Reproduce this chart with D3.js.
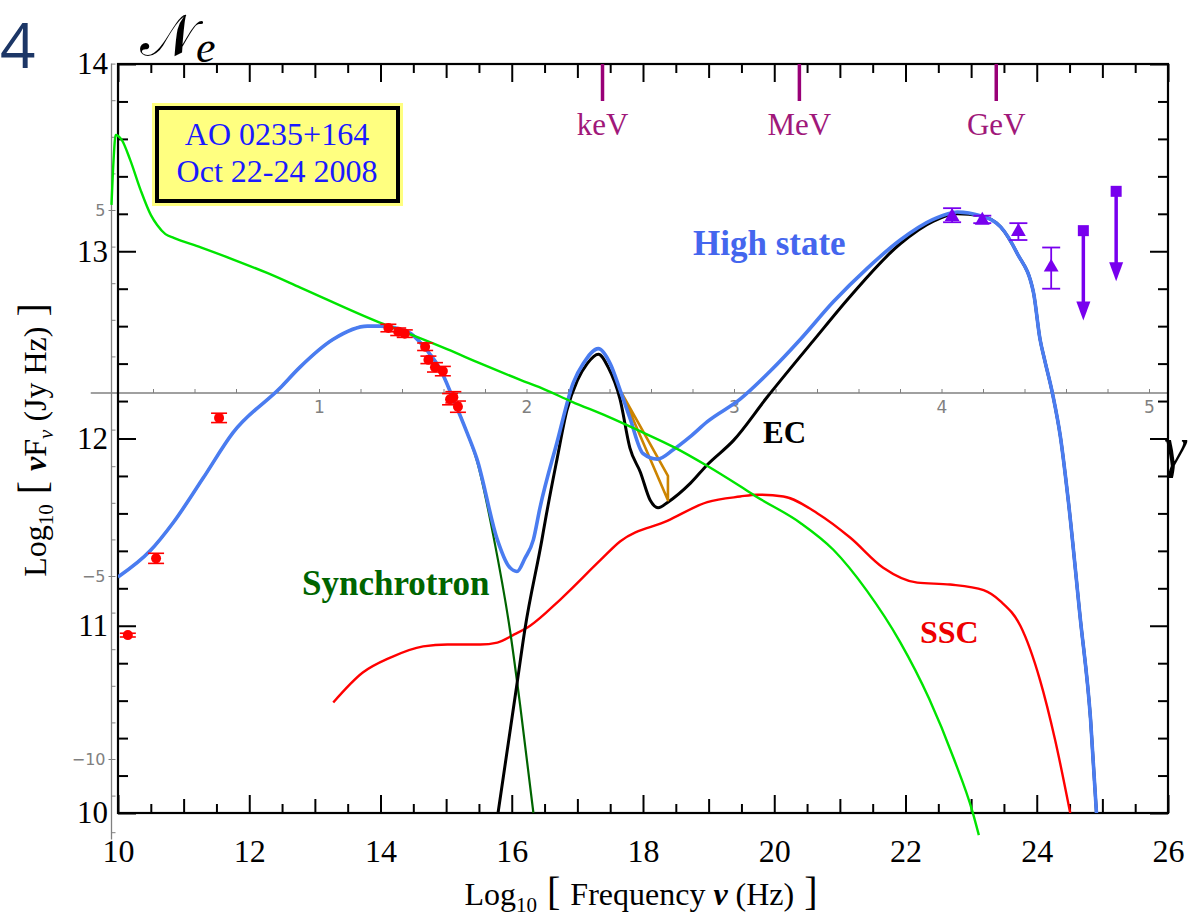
<!DOCTYPE html>
<html>
<head>
<meta charset="utf-8">
<script src="https://cdn.jsdelivr.net/npm/d3@7"></script>
<style>
  body { margin: 0; background: #fff; }
  svg { display: block; }
</style>
</head>
<body>
<div id="chart"></div>
<script>
// ---- values ----
// model curves, [log10 nu, log10 nuFnu]
const highState = [
  [10.00,11.26],[10.49,11.40],[10.84,11.55],[11.30,11.79],[11.75,12.03],[12.47,12.27],[12.77,12.38],
  [13.28,12.53],[13.80,12.60],[13.99,12.60],[14.41,12.57],[14.71,12.47],[14.91,12.37],[15.11,12.21],
  [15.32,12.03],[15.47,11.89],[15.78,11.46],[15.95,11.32],[16.08,11.29],[16.20,11.36],[16.33,11.46],
  [16.43,11.63],[16.69,11.98],[16.94,12.30],[17.09,12.40],[17.32,12.48],[17.50,12.40],[17.65,12.26],
  [17.80,12.11],[18.00,11.92],[18.22,11.89],[18.46,11.94],[18.72,12.01],[18.98,12.09],[19.48,12.21],
  [19.94,12.36],[20.40,12.53],[20.90,12.73],[21.42,12.91],[21.92,13.06],[22.42,13.17],[22.79,13.21],
  [23.14,13.19],[23.45,13.13],[23.70,12.99],[23.95,12.78],[24.05,12.53],[24.12,12.42],[24.24,12.24],
  [24.36,12.01],[24.48,11.67],[24.66,11.05],[24.82,10.50],[24.91,10.00]
];
const ecModel = [
  [15.77,9.95],[16.08,10.69],[16.20,10.98],[16.46,11.46],[16.51,11.56],[16.69,11.89],[16.84,12.15],
  [17.00,12.31],[17.15,12.40],[17.32,12.45],[17.47,12.38],[17.65,12.21],[17.80,11.95],[17.96,11.82],
  [18.11,11.67],[18.23,11.63],[18.38,11.66],[18.72,11.76],[18.98,11.86],[19.38,11.99],[19.89,12.22],
  [20.59,12.52],[21.16,12.76],[21.92,13.04],[22.42,13.16],[22.79,13.20],[23.14,13.19],[23.45,13.13],
  [23.70,12.99],[23.95,12.78],[24.05,12.53],[24.12,12.42],[24.24,12.24],[24.36,12.01],[24.48,11.67],
  [24.66,11.05],[24.82,10.50],[24.91,10.00]
];
const syncModel = [
  [10.00,11.26],[10.49,11.40],[10.84,11.55],[11.30,11.79],[11.75,12.03],[12.47,12.27],[12.77,12.38],
  [13.28,12.53],[13.80,12.60],[13.99,12.60],[14.41,12.57],[14.71,12.47],[14.91,12.37],[15.11,12.21],
  [15.32,12.03],[15.47,11.88],[15.72,11.48],[15.98,10.96],[16.13,10.57],[16.33,10.00]
];
const sscModel = [
  [13.28,10.59],[13.73,10.75],[14.15,10.83],[14.65,10.89],[15.02,10.90],[15.52,10.90],[15.78,10.91],
  [16.02,10.95],[16.28,11.00],[16.74,11.14],[17.35,11.35],[17.65,11.45],[18.37,11.56],[18.98,11.66],
  [19.48,11.69],[19.74,11.70],[20.14,11.69],[20.66,11.60],[21.16,11.47],[21.66,11.31],[22.18,11.23],
  [22.68,11.22],[23.19,11.19],[23.45,11.13],[23.75,11.00],[24.05,10.71],[24.28,10.39],[24.51,10.00]
];
// X-ray spectrum bow tie
const xrayBowtie = [[17.68,12.24],[18.38,11.80],[18.38,11.67]];
// radio / IR / optical points [x, y, yerr]
const lowEnergyPts = [
  [10.15,10.95,0.01],[10.58,11.36,0.027],[11.54,12.11,0.025],[14.12,12.59,0.02],[14.27,12.57,0.02],
  [14.37,12.56,0.02],[14.68,12.49,0.02],[14.73,12.42,0.02],[14.83,12.38,0.025],[14.95,12.36,0.025],
  [15.06,12.21,0.03],[15.11,12.22,0.03],[15.18,12.17,0.03]
];
// gamma-ray points [x, y, low, high]
const fermiPts = [
  [22.71,13.19,13.155,13.23],[23.17,13.17,13.15,13.19],[23.72,13.11,13.06,13.15],[24.22,12.92,12.80,13.02]
];
const fermiLimits = [[24.71,13.11],[25.21,13.32]];
// energy markers
const energyLabels = ["keV","MeV","GeV"];
const energyLogNu = [17.383,20.383,23.383];
// overlaid electron distribution, [log10 gamma, log10 N_e]
const neCurve = [
  [0.00,5.14],[0.01,6.37],[0.02,7.05],[0.05,6.91],[0.09,6.37],[0.14,5.55],[0.19,4.86],[0.22,4.59],
  [0.26,4.34],[0.30,4.24],[0.43,3.98],[0.59,3.64],[0.75,3.28],[0.91,2.88],[1.29,1.93],[1.45,1.58],
  [1.62,1.19],[1.78,0.80],[1.97,0.36],[2.07,0.14],[2.22,-0.24],[2.39,-0.64],[2.55,-1.05],[2.71,-1.48],
  [2.87,-1.99],[3.03,-2.55],[3.11,-2.84],[3.32,-3.55],[3.48,-4.29],[3.64,-5.40],[3.80,-6.80],
  [3.94,-8.35],[4.06,-10.00],[4.15,-11.45],[4.18,-12.08]
];
const xTickLabels = [10,12,14,16,18,20,22,24,26];
const yTickLabels = [10,11,12,13,14];
const overlayXLabels = [1,2,3,4,5];
const overlayYLabels = [5,-5,-10];

// ---- drawing ----
const W = 1198, H = 921;
const serif = "'Liberation Serif','Times New Roman',serif";
const svg = d3.select("#chart").append("svg").attr("width", W).attr("height", H);

const x = d3.scaleLinear().domain([10, 26]).range([118, 1168]);
const y = d3.scaleLinear().domain([10, 14]).range([813, 64]);
const xo = d3.scaleLinear().domain([0, 5]).range([111.5, 1149]);
const yo = d3.scaleLinear().domain([0, 5]).range([393, 210]);

svg.append("defs").append("clipPath").attr("id", "plotclip")
  .append("rect").attr("x", 118).attr("y", 64).attr("width", 1050).attr("height", 749);

// overlay axes (grey)
const grey = "#808080";
const ov = svg.append("g");
ov.append("line").attr("x1", xo(-0.1)).attr("x2", xo(5.09)).attr("y1", yo(0)).attr("y2", yo(0))
  .attr("stroke", grey).attr("stroke-width", 1.3);
ov.append("line").attr("x1", xo(0)).attr("x2", xo(0)).attr("y1", yo(9)).attr("y2", yo(-12.2))
  .attr("stroke", grey).attr("stroke-width", 1.3);
ov.append("g").attr("transform", `translate(0,${yo(0)})`)
  .call(d3.axisTop(xo).tickValues(d3.range(0.2, 5.01, 0.2)).tickSize(4).tickFormat(""))
  .call(g => g.select(".domain").remove())
  .call(g => g.selectAll("line").attr("stroke", grey));
ov.append("g").attr("transform", `translate(0,${yo(0)})`)
  .call(d3.axisBottom(xo).tickValues(overlayXLabels).tickSize(0).tickPadding(8).tickFormat(d3.format("d")))
  .call(g => g.select(".domain").remove())
  .call(g => g.selectAll("text").attr("fill", grey).attr("font-size", 17)
    .attr("font-family", "'DejaVu Sans',sans-serif"));
ov.append("g").attr("transform", `translate(${xo(0)},0)`)
  .call(d3.axisRight(yo).tickValues(d3.range(-12, 10).filter(v => v !== 0)).tickSize(4).tickFormat(""))
  .call(g => g.select(".domain").remove())
  .call(g => g.selectAll("line").attr("stroke", grey));
ov.append("g").attr("transform", `translate(${xo(0)},0)`)
  .call(d3.axisLeft(yo).tickValues(overlayYLabels).tickSize(3).tickPadding(3).tickFormat(d3.format("d")))
  .call(g => g.select(".domain").remove())
  .call(g => g.selectAll("line").attr("stroke", grey))
  .call(g => g.selectAll("text").attr("fill", grey).attr("font-size", 16)
    .attr("font-family", "'DejaVu Sans',sans-serif"));

// main frame ticks
function tickSet(axisFn, scale, vals, size, tx, ty) {
  svg.append("g").attr("transform", `translate(${tx},${ty})`)
    .call(axisFn(scale).tickValues(vals).tickSize(size).tickFormat(""))
    .call(g => g.select(".domain").remove())
    .call(g => g.selectAll("line").attr("stroke", "#000").attr("stroke-width", 2));
}
const evenX = d3.range(10, 26.01, 2), oddX = d3.range(11, 26, 2), halfX = d3.range(10.5, 26, 1);
tickSet(d3.axisBottom, x, evenX, -18, 0, 813);
tickSet(d3.axisBottom, x, oddX, -14, 0, 813);
tickSet(d3.axisBottom, x, halfX, -9, 0, 813);
tickSet(d3.axisTop, x, evenX, -18, 0, 64);
tickSet(d3.axisTop, x, oddX, -14, 0, 64);
tickSet(d3.axisTop, x, halfX, -9, 0, 64);
const majY = d3.range(10, 14.01, 1), minY = d3.range(10.2, 14, 0.2).filter(v => Math.abs(v - Math.round(v)) > 0.01);
tickSet(d3.axisLeft, y, majY, -18, 118, 0);
tickSet(d3.axisLeft, y, minY, -10, 118, 0);
tickSet(d3.axisRight, y, majY, -18, 1168, 0);
tickSet(d3.axisRight, y, minY, -10, 1168, 0);

svg.append("rect").attr("x", 118).attr("y", 64).attr("width", 1050).attr("height", 749)
  .attr("fill", "none").attr("stroke", "#000").attr("stroke-width", 2.2);

// tick labels
svg.append("g").attr("transform", "translate(0,813)")
  .call(d3.axisBottom(x).tickValues(xTickLabels).tickSize(0).tickPadding(26).tickFormat(d3.format("d")))
  .call(g => g.select(".domain").remove())
  .call(g => g.selectAll("text").attr("font-size", 32).attr("font-family", serif).attr("fill", "#000"));
svg.append("g").attr("transform", "translate(118,0)")
  .call(d3.axisLeft(y).tickValues(yTickLabels).tickSize(0).tickPadding(10).tickFormat(d3.format("d")))
  .call(g => g.select(".domain").remove())
  .call(g => g.selectAll("text").attr("font-size", 31).attr("font-family", serif).attr("fill", "#000"));

// energy markers
energyLabels.forEach((lab, i) => {
  const px = x(energyLogNu[i]);
  svg.append("line").attr("x1", px).attr("x2", px).attr("y1", 64).attr("y2", 101)
    .attr("stroke", "#990077").attr("stroke-width", 3.5);
  svg.append("text").attr("x", px).attr("y", 135).attr("text-anchor", "middle")
    .attr("font-family", serif).attr("font-size", 31).attr("fill", "#a0187a").text(lab);
});

// model curves
const line = d3.line().x(d => x(d[0])).y(d => y(d[1])).curve(d3.curveMonotoneX);
const curves = svg.append("g").attr("clip-path", "url(#plotclip)");
curves.append("path").attr("d", line(sscModel)).attr("fill", "none").attr("stroke", "#ff0000").attr("stroke-width", 2.4);
curves.append("path").attr("d", line(syncModel)).attr("fill", "none").attr("stroke", "#006400").attr("stroke-width", 2.2);
curves.append("path").attr("d", line(ecModel)).attr("fill", "none").attr("stroke", "#000").attr("stroke-width", 3);
curves.append("path").attr("d", d3.line().x(d => x(d[0])).y(d => y(d[1]))(xrayBowtie) + "Z")
  .attr("fill", "none").attr("stroke", "#cc8400").attr("stroke-width", 2.6).attr("stroke-linejoin", "round");
curves.append("path").attr("d", line(highState)).attr("fill", "none").attr("stroke", "#4a7cf0").attr("stroke-width", 3.6);

// electron distribution curve (overlay)
svg.append("path")
  .attr("d", d3.line().x(d => xo(d[0])).y(d => yo(d[1])).curve(d3.curveMonotoneX)(neCurve))
  .attr("fill", "none").attr("stroke", "#00e400").attr("stroke-width", 2.4);

// data points
const red = "#ff0000";
lowEnergyPts.forEach(d => {
  const px = x(d[0]), py = y(d[1]), e0 = y(d[1] - d[2]), e1 = y(d[1] + d[2]);
  const g = svg.append("g").attr("stroke", red).attr("stroke-width", 1.6);
  g.append("line").attr("x1", px).attr("x2", px).attr("y1", e0).attr("y2", e1);
  g.append("line").attr("x1", px - 8).attr("x2", px + 8).attr("y1", e0).attr("y2", e0);
  g.append("line").attr("x1", px - 8).attr("x2", px + 8).attr("y1", e1).attr("y2", e1);
  svg.append("circle").attr("cx", px).attr("cy", py).attr("r", 5).attr("fill", red);
});

const violet = "#7800ee";
const tri = d3.symbol().type(d3.symbolTriangle).size(95);
fermiPts.forEach(d => {
  const px = x(d[0]), lo = y(d[2]), hi = y(d[3]);
  const g = svg.append("g").attr("stroke", violet).attr("stroke-width", 1.8);
  g.append("line").attr("x1", px).attr("x2", px).attr("y1", lo).attr("y2", hi);
  g.append("line").attr("x1", px - 9).attr("x2", px + 9).attr("y1", lo).attr("y2", lo);
  g.append("line").attr("x1", px - 9).attr("x2", px + 9).attr("y1", hi).attr("y2", hi);
  svg.append("path").attr("d", tri()).attr("transform", `translate(${px},${y(d[1]) + 1})`).attr("fill", violet);
});
const arrowDex = 0.48;
fermiLimits.forEach(d => {
  const px = x(d[0]), py = y(d[1]), tip = y(d[1] - arrowDex);
  svg.append("line").attr("x1", px).attr("x2", px).attr("y1", py).attr("y2", tip - 10)
    .attr("stroke", violet).attr("stroke-width", 3.5);
  svg.append("path").attr("d", `M${px - 7},${tip - 19}L${px + 7},${tip - 19}L${px},${tip}Z`).attr("fill", violet);
  svg.append("rect").attr("x", px - 5.5).attr("y", py - 5.5).attr("width", 11).attr("height", 11).attr("fill", violet);
});

// source box
svg.append("rect").attr("x", 152).attr("y", 103).attr("width", 251).attr("height", 103).attr("fill", "#ffff80");
svg.append("rect").attr("x", 157).attr("y", 108).attr("width", 241).attr("height", 93)
  .attr("fill", "none").attr("stroke", "#000").attr("stroke-width", 4);
[["AO 0235+164", 145], ["Oct 22-24 2008", 182]].forEach(([t, by]) => {
  svg.append("text").attr("x", 277).attr("y", by).attr("text-anchor", "middle")
    .attr("font-family", serif).attr("font-size", 32).attr("fill", "#1a1aff").text(t);
});

// curve labels
function label(t, lx, ly, col, size) {
  svg.append("text").attr("x", lx).attr("y", ly).attr("font-family", serif).attr("font-weight", "bold")
    .attr("font-size", size).attr("fill", col).text(t);
}
label("High state", 693, 255, "#4466ee", 35);
label("EC", 763, 443, "#000", 31);
label("SSC", 920, 643, "#ee0000", 32);
label("Synchrotron", 302, 595, "#006400", 35);

// axis titles
const xt = svg.append("text").attr("x", 641).attr("y", 905).attr("text-anchor", "middle")
  .attr("font-family", serif).attr("font-size", 32).attr("fill", "#000");
xt.append("tspan").text("Log");
xt.append("tspan").attr("font-size", 21).attr("dy", 7).text("10");
xt.append("tspan").attr("dy", -7).attr("font-size", 40).text(" [ ");
xt.append("tspan").text("Frequency ");
xt.append("tspan").attr("font-style", "italic").attr("font-weight", "bold").text("ν");
xt.append("tspan").text(" (Hz)");
xt.append("tspan").attr("font-size", 40).text(" ]");

const yt = svg.append("text").attr("transform", "translate(46,440) rotate(-90)").attr("text-anchor", "middle")
  .attr("font-family", serif).attr("font-size", 32).attr("fill", "#000");
yt.append("tspan").text("Log");
yt.append("tspan").attr("font-size", 21).attr("dy", 7).text("10");
yt.append("tspan").attr("dy", -7).attr("font-size", 40).text(" [ ");
yt.append("tspan").attr("font-style", "italic").attr("font-weight", "bold").text("ν");
yt.append("tspan").text("F");
yt.append("tspan").attr("font-size", 21).attr("dy", 7).attr("font-style", "italic").text("ν");
yt.append("tspan").attr("dy", -7).text(" (Jy Hz)");
yt.append("tspan").attr("font-size", 40).text(" ]");

// overlay annotations
svg.append("text").attr("x", 0).attr("y", 68).attr("font-family", "'Open Sans',sans-serif")
  .attr("font-size", 62).attr("fill", "#1c3666").text("4");
const ne = svg.append("text").attr("x", 140).attr("y", 55).attr("font-family", "'DejaVu Serif',serif")
  .attr("font-size", 58).attr("fill", "#000");
ne.append("tspan").text("𝒩");
ne.append("tspan").attr("font-family", serif).attr("font-style", "italic").attr("font-size", 44).attr("dy", 7).text("e");
svg.append("text").attr("x", 1164).attr("y", 466).attr("font-family", serif).attr("font-style", "italic")
  .attr("font-size", 56).attr("fill", "#000").text("γ");
</script>
</body>
</html>
